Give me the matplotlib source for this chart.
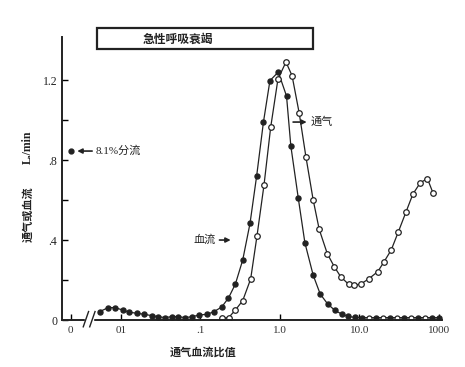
import matplotlib.pyplot as plt
from matplotlib.ticker import NullLocator, FixedLocator

# blood flow (filled markers)
flow_x = [0.0054, 0.0069, 0.0084, 0.0105, 0.0127, 0.0157, 0.0194, 0.0243, 0.0294, 0.0357,
          0.0434, 0.0526, 0.0638, 0.0789, 0.0966, 0.122, 0.148, 0.185, 0.225, 0.275,
          0.340, 0.420, 0.509, 0.620, 0.748, 0.953, 1.21, 1.37, 1.70, 2.06,
          2.62, 3.21, 3.99, 4.92, 5.97, 7.23, 8.77, 10.7, 16.1, 24.2,
          36.3, 54.5, 81.7, 100.0]
flow_y = [0.042, 0.062, 0.062, 0.050, 0.039, 0.034, 0.029, 0.022, 0.017, 0.012,
          0.017, 0.017, 0.012, 0.017, 0.025, 0.029, 0.042, 0.065, 0.110, 0.180,
          0.300, 0.483, 0.720, 0.990, 1.197, 1.240, 1.120, 0.871, 0.610, 0.386,
          0.224, 0.130, 0.080, 0.048, 0.030, 0.018, 0.013, 0.012, 0.012, 0.012,
          0.012, 0.012, 0.012, 0.012]

# ventilation (open markers)
vent_x = [0.185, 0.226, 0.275, 0.340, 0.428, 0.514, 0.630, 0.764, 0.944, 1.19,
          1.42, 1.75, 2.12, 2.62, 3.12, 3.94, 4.82, 5.80, 7.33, 8.60,
          10.4, 13.1, 17.0, 20.3, 25.1, 30.8, 38.5, 47.1, 58.4, 71.7, 84.7]
vent_y = [0.010, 0.012, 0.050, 0.097, 0.205, 0.420, 0.675, 0.963, 1.205, 1.290,
          1.222, 1.033, 0.817, 0.600, 0.453, 0.332, 0.267, 0.217, 0.178, 0.174,
          0.180, 0.206, 0.242, 0.290, 0.350, 0.440, 0.540, 0.630, 0.687, 0.707, 0.633]

# open markers lying on the baseline beyond 10
base_x = [13.2, 19.8, 29.7, 44.5, 66.7]
base_y = [0.012, 0.012, 0.012, 0.012, 0.012]

shunt_x = [0.00233]
shunt_y = [0.845]

xticks = [0.00233, 0.01, 0.1, 1.0, 10.0, 100.0]
xticklabels = ['0', '01', '.1', '1.0', '10.0', '1000']
yticks = [0, 0.4, 0.8, 1.2]
yticklabels = ['0', '.4', '.8', '1.2']

num_font = ['Liberation Serif', 'Noto Sans CJK SC']
cjk_font = ['Noto Sans CJK SC', 'DejaVu Sans']

fig = plt.figure(figsize=(4.65, 3.67), dpi=100)
ax = fig.add_axes([0.1333, 0.128, 0.817, 0.771])

ax.plot(flow_x, flow_y, color='#222', lw=0.9, marker='o', ms=3.6,
        mfc='#222', mec='#222')
ax.plot(vent_x, vent_y, color='#222', lw=0.9, marker='o', ms=4.0,
        mfc='white', mec='#222', mew=0.9)
ax.plot(base_x, base_y, ls='none', marker='o', ms=3.6,
        mfc='white', mec='#222', mew=0.9)
ax.plot(shunt_x, shunt_y, ls='none', marker='o', ms=3.5, mfc='#222', mec='#222')

ax.set_xscale('log')
ax.set_xlim(0.00181, 109)
ax.set_ylim(0, 1.415)

ax.xaxis.set_major_locator(FixedLocator(xticks))
ax.xaxis.set_minor_locator(NullLocator())
ax.set_xticklabels(xticklabels, family=num_font, fontsize=8, color='#333')
ax.set_yticks(yticks)
ax.set_yticklabels(yticklabels, family=num_font, fontsize=8.5, color='#222')
ax.set_yticks([0.2, 0.6, 1.0], minor=True)
ax.tick_params(axis='both', which='both', direction='in', length=4, width=1.0)
ax.tick_params(axis='x', pad=4)

for s in ['top', 'right']:
    ax.spines[s].set_visible(False)
for s in ['left', 'bottom']:
    ax.spines[s].set_linewidth(1.4)
    ax.spines[s].set_color('#222')

# axis break
ax.add_patch(plt.Rectangle((0.06, -0.01), 0.022, 0.02, transform=ax.transAxes,
                           color='white', clip_on=False, zorder=5))
for x0 in [0.056, 0.073]:
    ax.plot([x0, x0 + 0.014], [-0.024, 0.03], color='#222', lw=1.0,
            transform=ax.transAxes, clip_on=False, zorder=6)

# title box
fig.patches.append(plt.Rectangle((97 / 465, 1 - 49 / 367), 216 / 465, 21 / 367,
                                 transform=fig.transFigure, fill=False,
                                 edgecolor='#222', lw=1.6))
fig.text(178 / 465, 1 - 39 / 367, '急性呼吸衰竭', family=cjk_font, fontsize=8.5,
         fontweight='bold', ha='center', va='center', color='#222')

# annotations
ax.annotate('', xy=(0.0026, 0.845), xytext=(0.0047, 0.845),
            arrowprops=dict(arrowstyle='-|>', color='#222', lw=1.2, mutation_scale=7))
ax.text(0.0048, 0.845, '8.1%分流', family=num_font, fontsize=8,
        ha='left', va='center', color='#222')

ax.annotate('', xy=(0.26, 0.40), xytext=(0.16, 0.40),
            arrowprops=dict(arrowstyle='-|>', color='#222', lw=1.2, mutation_scale=7))
ax.text(0.155, 0.40, '血流', family=cjk_font, fontsize=8,
        ha='right', va='center', color='#222')

ax.annotate('', xy=(2.35, 0.99), xytext=(1.35, 0.99),
            arrowprops=dict(arrowstyle='-|>', color='#222', lw=1.2, mutation_scale=7))
ax.text(2.45, 0.99, '通气', family=cjk_font, fontsize=8,
        ha='left', va='center', color='#222')

# axis labels
fig.text(203 / 465, 1 - 352 / 367, '通气血流比值', family=cjk_font, fontsize=8,
         fontweight='bold', ha='center', va='center', color='#222')
fig.text(28 / 465, 1 - 214 / 367, '通气或血流', family=cjk_font, fontsize=8,
         fontweight='bold', rotation=90, ha='center', va='center', color='#222')
fig.text(28 / 465, 1 - 147 / 367, 'L./min', family=num_font, fontsize=8.5,
         fontweight='bold', rotation=90, ha='center', va='center', color='#222')

fig.savefig('out.png', dpi=100)
